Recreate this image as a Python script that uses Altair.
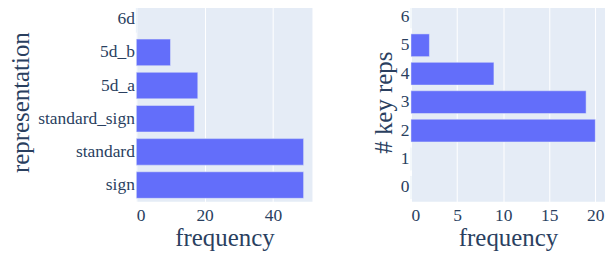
import altair as alt
import pandas as pd

# Left panel data
representations = ["6d", "5d_b", "5d_a", "standard_sign", "standard", "sign"]
rep_freq = [0, 10, 18, 17, 49, 49]

# Right panel data
key_reps = ["6", "5", "4", "3", "2", "1", "0"]
key_freq = [0, 2, 9, 19, 20, 0, 0]

left_ticks = [0, 20, 40]
right_ticks = [0, 5, 10, 15, 20]

FONT = "Liberation Serif"
TXT = "#2a3f5f"
BAR = "#636efa"
BG = "#E5ECF6"

df_left = pd.DataFrame({"representation": representations, "frequency": rep_freq})
df_right = pd.DataFrame({"keys": key_reps, "frequency": key_freq})

def xaxis(ticks):
    return alt.Axis(values=ticks, title="frequency", grid=True, gridColor="white", gridWidth=1,
                    domain=False, ticks=False, labelPadding=5, titlePadding=2,
                    labelFontSize=17.5, titleFontSize=25, labelFont=FONT, titleFont=FONT,
                    labelColor=TXT, titleColor=TXT, titleFontWeight="normal")

def yaxis(title):
    return alt.Axis(title=title, grid=False, domain=False, ticks=False, labelPadding=2,
                    titlePadding=4, labelFontSize=17.5, titleFontSize=25, labelFont=FONT,
                    titleFont=FONT, labelColor=TXT, titleColor=TXT, titleFontWeight="normal")

left = alt.Chart(df_left).mark_bar(color=BAR, stroke=BG, strokeWidth=0.5).encode(
    x=alt.X("frequency:Q", scale=alt.Scale(domain=[0, 51.6], nice=False, zero=True), axis=xaxis(left_ticks)),
    y=alt.Y("representation:N", sort=representations,
            scale=alt.Scale(paddingInner=0.2, paddingOuter=0.1), axis=yaxis("representation")),
).properties(width=177, height=200)

right = alt.Chart(df_right).mark_bar(color=BAR, stroke=BG, strokeWidth=0.5).encode(
    x=alt.X("frequency:Q", scale=alt.Scale(domain=[0, 21.05], nice=False, zero=True), axis=xaxis(right_ticks)),
    y=alt.Y("keys:N", sort=key_reps,
            scale=alt.Scale(paddingInner=0.2, paddingOuter=0.1), axis=yaxis("# key reps")),
).properties(width=195, height=200)

chart = alt.hconcat(left, right, spacing=59).properties(
    padding={"top": -6, "left": 0, "right": 0, "bottom": 0}
).configure_view(fill=BG, stroke=None)

chart.save("out.html", embed_options={"renderer": "svg", "actions": False})
